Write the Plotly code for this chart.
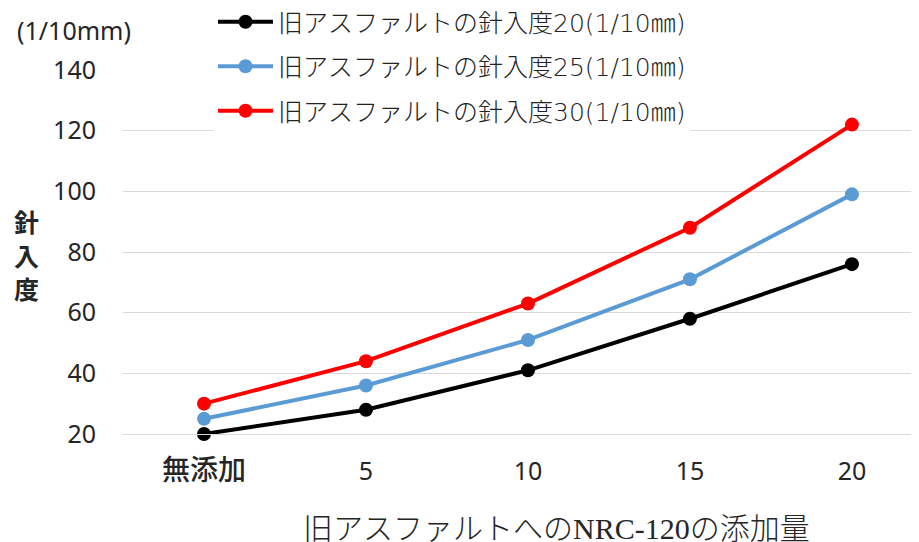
import plotly.graph_objects as go

categories = ["無添加", "5", "10", "15", "20"]
series_names = [
    "旧アスファルトの針入度20(1/10㎜)",
    "旧アスファルトの針入度25(1/10㎜)",
    "旧アスファルトの針入度30(1/10㎜)",
]
pen20 = [20, 28, 41, 58, 76]
pen25 = [25, 36, 51, 71, 99]
pen30 = [30, 44, 63, 88, 122]
y_ticks = [20, 40, 60, 80, 100, 120, 140]

colors = ["#000000", "#5B9BD5", "#FF0000"]
values = [pen20, pen25, pen30]

CJK = "Noto Sans CJK JP"
LAT = "Noto Sans, Noto Sans CJK JP"

# page body has an 8px offset; plot area in figure px: x 115..911, y 62..426
PL, PR, PT, PB = 115, 911, 62, 426
PW, PH = PR - PL, PB - PT


def px(x):
    return (x - PL) / PW


def py(y):
    return (PB - y) / PH


tick_text = [
    f"<span style='font-size:28px;font-weight:500'>{c}</span>" if not c.isdigit() else c
    for c in categories
]

fig = go.Figure()
for i, (name, vals, col) in enumerate(zip(series_names, values, colors)):
    fig.add_trace(go.Scatter(
        x=list(range(len(categories))), y=vals, name=name,
        mode="lines+markers",
        line=dict(color=col, width=4),
        marker=dict(color=col, size=14),
        cliponaxis=False,
        legendgroup=f"g{i}",
    ))

fig.update_layout(
    width=919, height=542,
    margin=dict(l=PL, r=919 - PR, t=PT, b=542 - PB, autoexpand=False),
    paper_bgcolor="white", plot_bgcolor="white",
    showlegend=True,
    legend=dict(
        x=px(205), y=py(-9), xanchor="left", yanchor="top",
        bgcolor="white", borderwidth=0,
        font=dict(family="DejaVu Sans, Noto Sans CJK JP", size=25, color="#222222", weight=300),
        traceorder="grouped", tracegroupgap=9, itemwidth=55,
    ),
    xaxis=dict(
        tickmode="array", tickvals=list(range(len(categories))), ticktext=tick_text,
        range=[-0.5, 4.414], showgrid=False, zeroline=False,
        showline=True, linecolor="#d9d9d9", linewidth=1,
        ticks="", ticklabelstandoff=15,
        tickfont=dict(family=LAT, size=25, color="#262626"),
    ),
    yaxis=dict(
        range=[20, 140], tickvals=y_ticks, showgrid=True,
        gridcolor="#d9d9d9", gridwidth=1, zeroline=False, showline=False,
        ticks="", ticklabelstandoff=26,
        tickfont=dict(family=LAT, size=25, color="#262626"),
    ),
    annotations=[
        dict(text="(1/10mm)", xref="paper", yref="paper",
             x=px(7), y=py(22), xanchor="left", yanchor="middle",
             showarrow=False, font=dict(family=LAT, size=25, color="#262626")),
        dict(text="針", xref="paper", yref="paper",
             x=px(18), y=py(213), xanchor="center", yanchor="middle",
             showarrow=False, font=dict(family=CJK, size=25, color="#262626", weight=700)),
        dict(text="入", xref="paper", yref="paper",
             x=px(18), y=py(247), xanchor="center", yanchor="middle",
             showarrow=False, font=dict(family=CJK, size=25, color="#262626", weight=700)),
        dict(text="度", xref="paper", yref="paper",
             x=px(18), y=py(280), xanchor="center", yanchor="middle",
             showarrow=False, font=dict(family=CJK, size=25, color="#262626", weight=700)),
        dict(text="旧アスファルトへの<span style='font-family:Liberation Serif'>NRC-120</span>の添加量",
             xref="paper", yref="paper",
             x=px(548), y=py(518), xanchor="center", yanchor="middle",
             showarrow=False, font=dict(family=CJK, size=30, color="#262626", weight=300)),
    ],
)

fig.write_html("out.html")
